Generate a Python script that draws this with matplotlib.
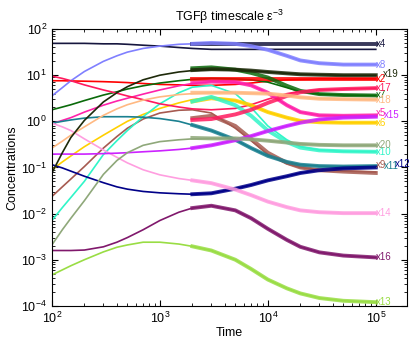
import numpy as np
import matplotlib
matplotlib.use("Agg")
from matplotlib import pyplot as plt

plt.rcParams['font.family'] = ['Liberation Sans', 'DejaVu Sans']
plt.rcParams['mathtext.fontset'] = 'custom'
plt.rcParams['mathtext.rm'] = 'Liberation Sans'

# time points: full model, and reduced model (from t=2000)
t = [100, 125, 150, 200, 300, 400, 500, 700, 1000, 1500, 2000, 3000, 5000, 7000,
     1e4, 1.5e4, 2e4, 3e4, 5e4, 1e5]
tm = [2e3, 3e3, 5e3, 7e3, 1e4, 1.5e4, 2e4, 3e4, 5e4, 1e5]

# log10 concentrations, full model
x2 = [0.88, 0.88, 0.875, 0.87, 0.86, 0.85, 0.84, 0.82, 0.80, 0.79, 0.78, 0.78, 0.80, 0.83, 0.87, 0.90, 0.91, 0.92, 0.92, 0.92]
x4 = [1.69, 1.69, 1.69, 1.69, 1.68, 1.68, 1.67, 1.65, 1.63, 1.60, 1.58, 1.56, 1.56, 1.56, 1.56, 1.56, 1.56, 1.56, 1.56, 1.56]
x5 = [-0.05, 0.02, 0.08, 0.20, 0.35, 0.44, 0.50, 0.59, 0.68, 0.77, 0.82, 0.86, 0.85, 0.78, 0.62, 0.35, 0.20, 0.13, 0.12, 0.13]
x6 = [-1.05, -0.88, -0.75, -0.55, -0.30, -0.13, 0.00, 0.15, 0.28, 0.40, 0.47, 0.52, 0.45, 0.35, 0.20, 0.08, 0.01, -0.02, -0.03, -0.03]
x7 = [0.25, 0.31, 0.36, 0.45, 0.57, 0.64, 0.70, 0.77, 0.83, 0.88, 0.91, 0.93, 0.92, 0.90, 0.85, 0.73, 0.64, 0.59, 0.57, 0.56]
x8 = [0.55, 0.73, 0.88, 1.08, 1.30, 1.42, 1.50, 1.58, 1.63, 1.67, 1.68, 1.70, 1.68, 1.63, 1.55, 1.42, 1.32, 1.26, 1.23, 1.23]
x9 = [-1.63, -1.42, -1.25, -0.98, -0.58, -0.33, -0.15, 0.05, 0.18, 0.24, 0.25, 0.18, -0.15, -0.42, -0.72, -0.92, -1.00, -1.05, -1.08, -1.10]
x10 = [-2.15, -1.87, -1.65, -1.30, -0.72, -0.42, -0.20, 0.10, 0.38, 0.62, 0.74, 0.78, 0.60, 0.30, -0.10, -0.40, -0.55, -0.62, -0.65, -0.66]
x11 = [-0.04, 0.00, 0.03, 0.07, 0.10, 0.10, 0.10, 0.09, 0.06, 0.00, -0.08, -0.20, -0.40, -0.58, -0.75, -0.88, -0.94, -0.97, -0.98, -0.97]
x12 = [-0.94, -1.01, -1.08, -1.19, -1.33, -1.42, -1.47, -1.52, -1.55, -1.57, -1.58, -1.56, -1.46, -1.38, -1.28, -1.19, -1.12, -1.06, -1.02, -1.00]
x13 = [-3.33, -3.22, -3.13, -3.00, -2.83, -2.73, -2.68, -2.62, -2.62, -2.66, -2.71, -2.80, -3.00, -3.20, -3.43, -3.62, -3.73, -3.83, -3.89, -3.92]
x14 = [-0.04, -0.12, -0.20, -0.38, -0.62, -0.78, -0.90, -1.05, -1.16, -1.24, -1.28, -1.34, -1.48, -1.60, -1.74, -1.86, -1.93, -1.97, -1.99, -1.99]
x15 = [-0.71, -0.71, -0.71, -0.71, -0.70, -0.69, -0.68, -0.66, -0.64, -0.61, -0.58, -0.52, -0.41, -0.32, -0.21, -0.10, -0.03, 0.04, 0.08, 0.10]
x16 = [-2.80, -2.80, -2.80, -2.79, -2.72, -2.62, -2.52, -2.35, -2.15, -1.97, -1.88, -1.83, -1.93, -2.10, -2.33, -2.57, -2.72, -2.84, -2.91, -2.95]
x17 = [0.98, 0.93, 0.88, 0.79, 0.68, 0.61, 0.55, 0.47, 0.38, 0.31, 0.27, 0.25, 0.28, 0.36, 0.48, 0.60, 0.65, 0.68, 0.70, 0.72]
x18 = [-0.58, -0.43, -0.30, -0.12, 0.13, 0.27, 0.36, 0.46, 0.53, 0.58, 0.60, 0.62, 0.62, 0.61, 0.60, 0.56, 0.52, 0.49, 0.48, 0.47]
x19 = [-1.12, -0.68, -0.35, 0.02, 0.42, 0.62, 0.75, 0.90, 1.00, 1.07, 1.10, 1.12, 1.12, 1.10, 1.07, 1.04, 1.02, 1.01, 1.00, 1.00]
x20 = [-2.68, -2.35, -2.10, -1.72, -1.15, -0.85, -0.68, -0.52, -0.44, -0.40, -0.38, -0.37, -0.37, -0.39, -0.42, -0.46, -0.49, -0.51, -0.52, -0.52]

# log10 concentrations, reduced model (marked)
r2 = [0.92, 0.92, 0.92, 0.92, 0.92, 0.92, 0.92, 0.92, 0.92, 0.92]
r4 = [1.68, 1.68, 1.68, 1.68, 1.68, 1.68, 1.68, 1.68, 1.68, 1.68]
r5 = [0.83, 0.86, 0.85, 0.78, 0.62, 0.35, 0.20, 0.13, 0.12, 0.13]
r6 = [0.43, 0.50, 0.45, 0.35, 0.20, 0.08, 0.01, -0.02, -0.03, -0.03]
r7 = [1.15, 1.17, 1.12, 1.05, 0.95, 0.77, 0.66, 0.59, 0.57, 0.56]
r8 = [1.68, 1.70, 1.68, 1.63, 1.55, 1.42, 1.32, 1.26, 1.23, 1.23]
r9 = [0.07, 0.12, -0.10, -0.38, -0.68, -0.90, -1.00, -1.06, -1.09, -1.12]
r10 = [0.43, 0.53, 0.35, 0.12, -0.20, -0.45, -0.57, -0.63, -0.65, -0.66]
r11 = [-0.08, -0.20, -0.40, -0.58, -0.75, -0.88, -0.94, -0.97, -0.98, -0.97]
r12 = [-1.58, -1.56, -1.46, -1.38, -1.28, -1.19, -1.12, -1.06, -1.02, -1.00]
r13 = [-2.71, -2.80, -3.00, -3.20, -3.43, -3.62, -3.73, -3.83, -3.89, -3.92]
r14 = [-1.28, -1.34, -1.48, -1.60, -1.74, -1.86, -1.93, -1.97, -1.99, -1.99]
r15 = [-0.58, -0.52, -0.41, -0.32, -0.21, -0.10, -0.03, 0.04, 0.08, 0.10]
r16 = [-1.88, -1.83, -1.93, -2.10, -2.33, -2.57, -2.72, -2.84, -2.91, -2.95]
r17 = [0.03, 0.05, 0.15, 0.25, 0.40, 0.55, 0.63, 0.68, 0.70, 0.72]
r18 = [0.62, 0.62, 0.62, 0.61, 0.60, 0.56, 0.52, 0.49, 0.48, 0.47]
r19 = [1.11, 1.13, 1.12, 1.10, 1.07, 1.04, 1.02, 1.01, 1.00, 1.00]
r20 = [-0.36, -0.37, -0.37, -0.39, -0.42, -0.46, -0.49, -0.51, -0.52, -0.52]

names = ['x2', 'x4', 'x5', 'x6', 'x7', 'x8', 'x9', 'x10', 'x11', 'x12',
         'x13', 'x14', 'x15', 'x16', 'x17', 'x18', 'x19', 'x20']
full = [x2, x4, x5, x6, x7, x8, x9, x10, x11, x12, x13, x14, x15, x16, x17, x18, x19, x20]
red = [r2, r4, r5, r6, r7, r8, r9, r10, r11, r12, r13, r14, r15, r16, r17, r18, r19, r20]
colors = ['#ff0000', '#16163e', '#ff22aa', '#ffd000', '#0a6a0a', '#8080ff', '#a65a50',
          '#30f5c8', '#1a8090', '#000088', '#99dd44', '#ff9ee0', '#cc22ff', '#80186c',
          '#ff1a5e', '#ffb982', '#1e2a0a', '#8fa87a']

# label placement tweaks (offset in points, y override)
label_dx = {'x19': 5, 'x15': 6, 'x11': 6, 'x12': 14}
label_y = {'x9': -0.94, 'x19': 1.03, 'x5': 0.17, 'x15': 0.13, 'x12': -0.93}

fig = plt.figure(figsize=(4.15, 3.46), dpi=100)
ax = fig.add_axes([0.125, 0.116, 0.856, 0.8])

for y, c in zip(full, colors):
    ax.plot(t, 10**np.array(y), color=c, lw=1.2)
for y, c in zip(red, colors):
    ax.plot(tm, 10**np.array(y), color=c, lw=2.8, alpha=0.85)

for n, y, c in zip(names, red, colors):
    ax.annotate(n, (1.0e5, 10**label_y.get(n, y[-1])), xytext=(label_dx.get(n, 0), 0),
                textcoords='offset points', color=c, fontsize=7, va='center', ha='left')

ax.set_xscale('log')
ax.set_yscale('log')
ax.set_xlim(1e2, 1.95e5)
ax.set_ylim(1e-4, 1e2)
ax.tick_params(which='both', direction='in', top=True, right=True, labelsize=9)
ax.tick_params(which='major', length=4)
ax.tick_params(which='minor', length=2)
ax.set_xticks([1e2, 1e3, 1e4, 1e5])
ax.set_xlabel('Time', fontsize=9, labelpad=1)
ax.set_ylabel('Concentrations', fontsize=9, labelpad=2)
ax.set_title('TGF\u03b2 timescale \u03b5$^{-3}$', fontsize=9)

fig.savefig('out.png', dpi=100)
